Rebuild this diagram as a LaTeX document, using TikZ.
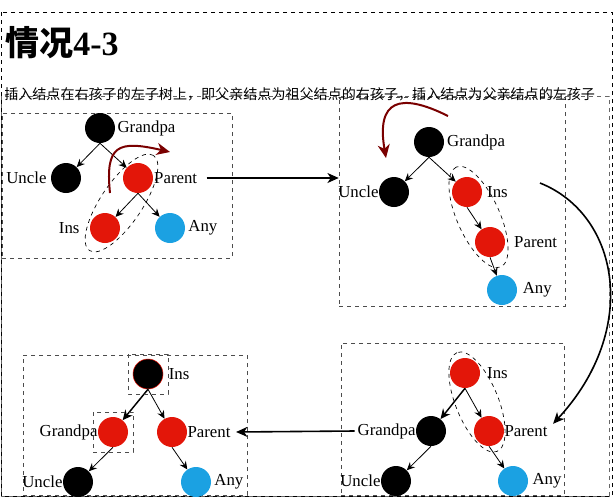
\documentclass[tikz,border=0pt]{standalone}
\usepackage{fontspec}
\setmainfont{Liberation Serif}
\newfontfamily\cjk{Noto Sans CJK SC}
\usetikzlibrary{arrows.meta,fit,calc}

\definecolor{rbred}{HTML}{E31609}
\definecolor{rbblue}{HTML}{1BA1E2}
\definecolor{turnred}{HTML}{7A0000}

\tikzset{
  bnode/.style={circle, fill=black, minimum size=22.5pt, inner sep=0pt},
  rnode/.style={bnode, fill=rbred},
  anode/.style={bnode, fill=rbblue},
  lbl/.style={font=\fontsize{12.6}{14}\selectfont, inner sep=1pt},
  tedge/.style={-{Stealth[length=6pt, width=5.5pt, inset=2pt]}, line width=0.6pt},
  sedge/.style={-{Stealth[length=7.5pt, width=7pt, inset=2.5pt]}, line width=1.1pt},
  bigarrow/.style={-{Stealth[length=8.5pt, width=7.5pt, inset=2.5pt]}, line width=1.2pt},
  turn/.style={-{Stealth[length=10pt, width=9pt, inset=3pt]}, line width=1.5pt, draw=turnred},
  panel/.style={draw=black!70, dashed, inner sep=0pt},
  ring/.style={draw, dashed, line width=0.5pt}
}

\begin{document}
\begin{tikzpicture}[x=0.75pt, y=-0.75pt]
\useasboundingbox (0,0) rectangle (615,497);
% frames
\draw[dashed] (1,12) rectangle (612,496);
\draw[dashed, black!60] (1,96) rectangle (609,496);
\node[panel, fit={(2,113) (232,258)}] (p1) {};
\node[panel, fit={(339,97) (565,306)}] (p2) {};
\node[panel, fit={(341,343) (564,495)}] (p3) {};
\node[panel, fit={(23,355) (247,495)}] (p4) {};

\node[anchor=west, inner sep=0pt, font=\fontsize{25.5}{28}\selectfont\bfseries] (title) at (5,43) {{\cjk 情况}4-3};
\node[anchor=west, inner sep=0pt, font=\cjk\fontsize{10.55}{12}\selectfont] (sub) at (4,94) {插入结点在右孩子的左子树上，即父亲结点为祖父结点的右孩子，插入结点为父亲结点的左孩子};

% panel 1
\node[bnode, label={[lbl, label distance=0.5pt]right:Grandpa}] (gp1) at (100,128) {};
\node[bnode, label={[lbl, label distance=2pt]left:Uncle}] (un1) at (66,178) {};
\node[rnode, label={[lbl, label distance=-0.5pt, name=pal1]right:Parent}] (pa1) at (138,178) {};
\node[rnode, label={[lbl, label distance=6.5pt]left:Ins}] (in1) at (105,228) {};
\node[anode, label={[lbl, label distance=1.2pt]right:Any}] (an1) at (170,228) {};
\draw[tedge] (gp1.south) -- (un1);
\draw[tedge] (gp1.south) -- (pa1);
\draw[tedge] (pa1.south) -- (in1);
\draw[tedge] (pa1.south) -- (an1);
\draw[ring] ($(in1)!0.5!(pa1)$) ellipse [x radius=43pt, y radius=15.5pt, rotate=56];
\draw[turn] (110,193) .. controls (105,145) and (118,140) .. (170,152);

% panel 2
\node[bnode, label={[lbl, label distance=1pt]right:Grandpa}] (gp2) at (429,142) {};
\node[bnode, label={[lbl, label distance=-1pt]left:Uncle}] (un2) at (394,192) {};
\node[rnode, label={[lbl, label distance=2.5pt]right:Ins}] (in2) at (467,192) {};
\node[rnode, label={[lbl, label distance=5.5pt]right:Parent}] (pa2) at (490,242) {};
\node[anode, label={[lbl, label distance=3pt]right:Any}] (an2) at (502,290) {};
\draw[tedge] (gp2.south) -- (un2);
\draw[tedge] (gp2.south) -- (in2);
\draw[tedge] (in2.south) -- (pa2);
\draw[tedge] (pa2.south) -- (an2);
\draw[ring] ($(in2)!0.5!(pa2)$) ellipse [x radius=41pt, y radius=16pt, rotate=114];
\draw[turn] (448,116) .. controls (400,92) and (376,100) .. (386,158);

% panel 3
\node[rnode, label={[lbl, label distance=4pt]right:Ins}] (in3) at (465,373) {};
\node[bnode, label={[lbl, label distance=-1pt, name=gpl3]left:Grandpa}] (gp3) at (431,431) {};
\node[rnode, label={[lbl, label distance=-1pt, name=pal3]right:Parent}] (pa3) at (489,431) {};
\node[bnode, label={[lbl, label distance=-1pt]left:Uncle}] (un3) at (396,481) {};
\node[anode, label={[lbl, label distance=2pt]right:Any}] (an3) at (513,481) {};
\draw[sedge] (in3.south) -- (gp3);
\draw[tedge] (in3.south) -- (pa3);
\draw[tedge] (gp3.south) -- (un3);
\draw[tedge] (pa3.south) -- (an3);
\draw[ring] ($(in3)!0.5!(pa3)$) ellipse [x radius=40pt, y radius=16pt, rotate=112];

% panel 4
\node[bnode, draw=rbred, line width=0.4pt, label={[lbl, label distance=3pt]right:Ins}] (in4) at (148,374) {};
\node[rnode, label={[lbl, label distance=-1pt]left:Grandpa}] (gp4) at (113,432) {};
\node[rnode, label={[lbl, label distance=-1pt, name=pal4]right:Parent}] (pa4) at (172,432) {};
\node[bnode, label={[lbl, label distance=-1pt]left:Uncle}] (un4) at (78,482) {};
\node[anode, label={[lbl, label distance=1.2pt]right:Any}] (an4) at (196,482) {};
\draw[sedge] (in4.south) -- (gp4);
\draw[tedge] (in4.south) -- (pa4);
\draw[tedge] (gp4.south) -- (un4);
\draw[tedge] (pa4.south) -- (an4);
\draw[panel] (in4.center) ++(-20,-20) rectangle ++(40,40);
\draw[panel] (gp4.center) ++(-20,-20) rectangle ++(40,40);

% moves between the panels
\coordinate (c2s) at (540,183);
\draw[bigarrow] ([xshift=6pt]pal1.east) -- (pal1.east -| p2.west);
\draw[bigarrow] (c2s) .. controls (620,215) and (640,330) .. ([xshift=3pt]pal3.north east);
\draw[bigarrow] ([xshift=-1pt]gpl3.west) -- ([xshift=3pt]pal4.east);
\end{tikzpicture}
\end{document}
